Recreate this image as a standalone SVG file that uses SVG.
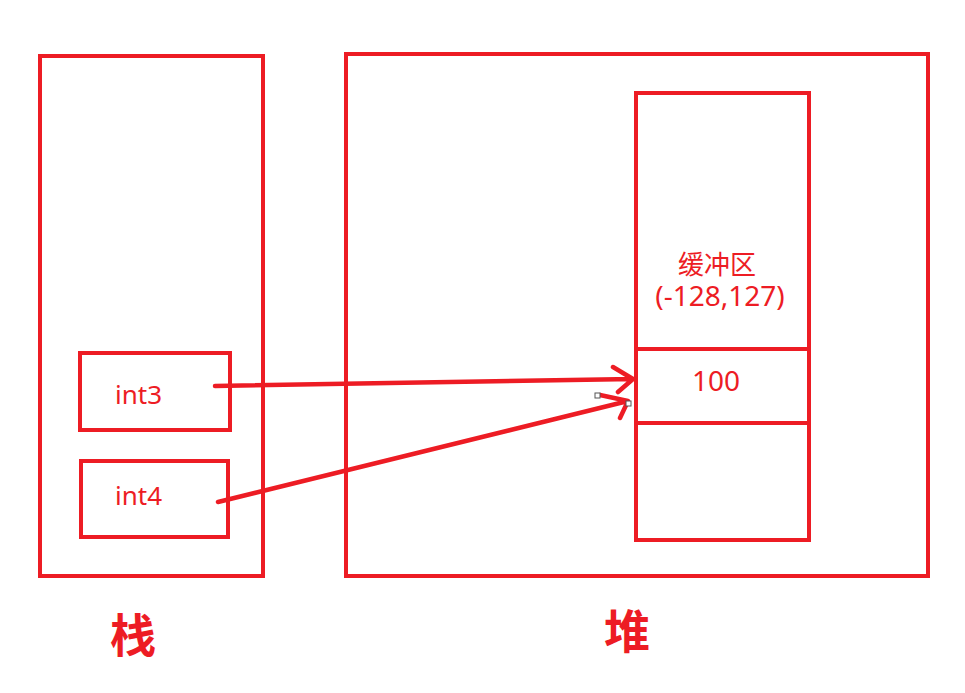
<svg xmlns="http://www.w3.org/2000/svg" width="965" height="693" viewBox="0 0 965 693">
<style>
.box{fill:none;stroke:#ed1c24;stroke-width:4}
.t{fill:#ed1c24;font-family:"Segoe UI","Noto Sans","Noto Sans CJK SC",sans-serif;font-size:26px}
.m{font-size:28px}
.b{fill:#ed1c24;font-family:"Noto Sans CJK SC",sans-serif;font-size:46px;font-weight:bold}
.c{fill:none;stroke:#ed1c24;stroke-width:4.5;stroke-linecap:round;stroke-linejoin:round}
.h{fill:#fff;stroke:#555;stroke-width:1}
</style>
<rect width="965" height="693" fill="#fff"/>
<g id="stack">
<rect class="box" x="40" y="56" width="223" height="520"/>
<text class="b" x="133" y="652" text-anchor="middle">栈</text>
</g>
<g id="heap">
<rect class="box" x="346" y="54" width="582" height="522"/>
<text class="b" x="627" y="648" text-anchor="middle">堆</text>
</g>
<g id="buffer">
<rect class="box" x="636" y="93" width="173" height="447"/>
<line class="box" x1="636" y1="349" x2="809" y2="349"/>
<line class="box" x1="636" y1="423" x2="809" y2="423"/>
<text class="t" x="717" y="274" text-anchor="middle" font-family="Noto Sans CJK SC, sans-serif">缓冲区</text>
<text class="t m" x="720" y="306" text-anchor="middle">(-128,127)</text>
<text class="t m" x="716" y="391" text-anchor="middle">100</text>
</g>
<g id="int3">
<rect class="box" x="80" y="353" width="150" height="77"/>
<text class="t" x="115" y="404">int3</text>
</g>
<g id="int4">
<rect class="box" x="81" y="461" width="147" height="76"/>
<text class="t" x="115" y="505">int4</text>
</g>
<g id="connectors">
<path class="c" d="M215,386 L633,379 M613,367 L633,379 L618,392"/>
<path class="c" d="M218,502 L628,401 M600,395 L628,401 L620,418"/>
<rect class="h" x="595" y="393" width="5" height="5"/>
<rect class="h" x="626" y="401" width="5" height="5"/>
</g>
</svg>
